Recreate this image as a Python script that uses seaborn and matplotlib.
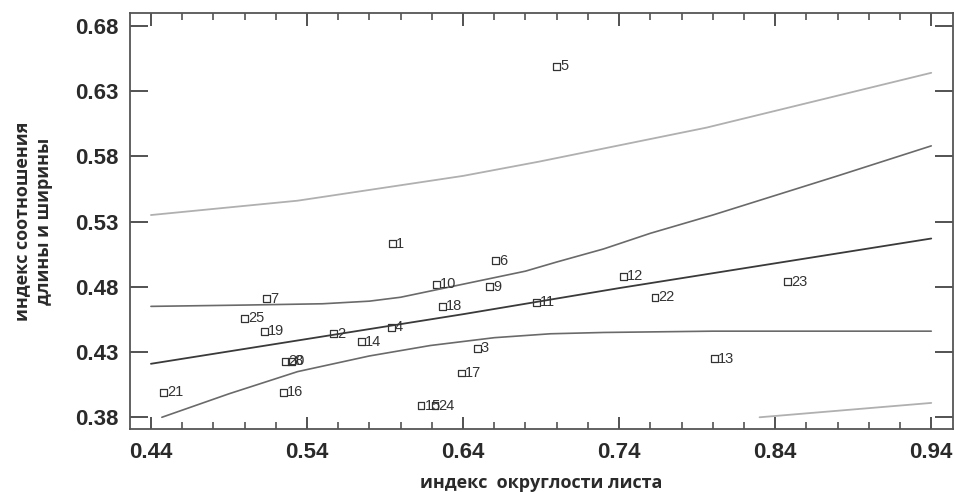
import numpy as np
import pandas as pd
import seaborn as sns
import matplotlib.pyplot as plt
from matplotlib.ticker import MultipleLocator

# точки (номер образца, индекс округлости, индекс соотношения)
point_ids = [str(i) for i in range(1, 26)]
roundness = [0.595, 0.557, 0.649, 0.594, 0.700, 0.661, 0.514, 0.530, 0.657, 0.623,
             0.687, 0.743, 0.801, 0.575, 0.613, 0.525, 0.639, 0.627, 0.513, 0.526,
             0.448, 0.763, 0.848, 0.622, 0.500]
ratio = [0.513, 0.444, 0.433, 0.449, 0.649, 0.500, 0.471, 0.423, 0.480, 0.482,
         0.468, 0.488, 0.425, 0.438, 0.389, 0.399, 0.414, 0.465, 0.446, 0.423,
         0.399, 0.472, 0.484, 0.389, 0.456]

# линия регрессии
fit_x = [0.44, 0.54, 0.64, 0.74, 0.84, 0.94]
fit_y = [0.421, 0.440, 0.459, 0.479, 0.498, 0.517]

# доверительные границы
conf_up_x = [0.44, 0.50, 0.55, 0.58, 0.60, 0.62, 0.64, 0.66, 0.68, 0.70, 0.73, 0.76, 0.80, 0.84, 0.88, 0.94]
conf_up_y = [0.465, 0.466, 0.467, 0.469, 0.472, 0.477, 0.482, 0.487, 0.492, 0.499, 0.509, 0.521, 0.535, 0.550, 0.565, 0.588]
conf_lo_x = [0.447, 0.49, 0.534, 0.58, 0.619, 0.66, 0.696, 0.73, 0.80, 0.94]
conf_lo_y = [0.380, 0.398, 0.415, 0.427, 0.435, 0.441, 0.444, 0.445, 0.446, 0.446]

# границы прогноза
pred_up_x = [0.44, 0.534, 0.64, 0.689, 0.796, 0.94]
pred_up_y = [0.535, 0.546, 0.565, 0.576, 0.602, 0.644]
pred_lo_x = [0.83, 0.94]
pred_lo_y = [0.380, 0.391]

sns.set_style("ticks")
plt.rcParams['font.family'] = ['Liberation Sans', 'DejaVu Sans']

fig = plt.figure(figsize=(9.55, 4.92), dpi=100)
ax = fig.add_axes([0.136, 0.128, 0.862, 0.846])

pts = pd.DataFrame({"id": point_ids, "x": roundness, "y": ratio})

sns.lineplot(x=pred_up_x, y=pred_up_y, ax=ax, color="#b0b0b0", lw=1.3)
sns.lineplot(x=pred_lo_x, y=pred_lo_y, ax=ax, color="#b0b0b0", lw=1.3)
sns.lineplot(x=conf_up_x, y=conf_up_y, ax=ax, color="#6a6a6a", lw=1.2)
sns.lineplot(x=conf_lo_x, y=conf_lo_y, ax=ax, color="#6a6a6a", lw=1.2)
sns.lineplot(x=fit_x, y=fit_y, ax=ax, color="#3a3a3a", lw=1.3)

sns.scatterplot(data=pts, x="x", y="y", ax=ax, marker="s", s=24,
                facecolors="none", edgecolor="#333333", linewidth=0.9)
for _, r in pts.iterrows():
    ax.annotate(r["id"], (r["x"], r["y"]), xytext=(2.5, 0), textcoords="offset points",
                fontsize=10.5, color="#333333", va="center", ha="left")

ax.set_xlim(0.4265, 0.954)
ax.set_ylim(0.371, 0.690)
ax.set_xticks([0.44, 0.54, 0.64, 0.74, 0.84, 0.94])
ax.set_yticks([0.38, 0.43, 0.48, 0.53, 0.58, 0.63, 0.68])
ax.xaxis.set_minor_locator(MultipleLocator(0.02))
ax.xaxis.set_major_formatter(plt.FuncFormatter(lambda v, p: f"{v:.2f}"))
ax.yaxis.set_major_formatter(plt.FuncFormatter(lambda v, p: f"{v:.2f}"))

ax.tick_params(axis="x", which="major", direction="in", length=9, width=1.3,
               top=True, bottom=True, labelsize=16, colors="#444444",
               labelcolor="#2a2a2a", pad=9)
ax.tick_params(axis="x", which="minor", direction="in", length=5, width=1.1,
               top=True, bottom=True, colors="#444444")
ax.tick_params(axis="y", which="major", direction="in", length=13, width=1.3,
               left=True, right=True, labelsize=16, colors="#444444",
               labelcolor="#2a2a2a", pad=8)
for lbl in ax.get_xticklabels() + ax.get_yticklabels():
    lbl.set_fontweight("bold")

for sp in ax.spines.values():
    sp.set_color("#555555")
    sp.set_linewidth(1.3)

ax.set_xlabel("индекс  округлости листа", fontsize=13, fontweight="bold",
              color="#2a2a2a", family=["Open Sans", "DejaVu Sans"], labelpad=8)
ax.set_ylabel("индекс соотношения\nдлины и ширины", fontsize=13, fontweight="bold",
              color="#2a2a2a", family=["Open Sans", "DejaVu Sans"], labelpad=16,
              linespacing=1.3)

fig.savefig("out.png", dpi=100)
